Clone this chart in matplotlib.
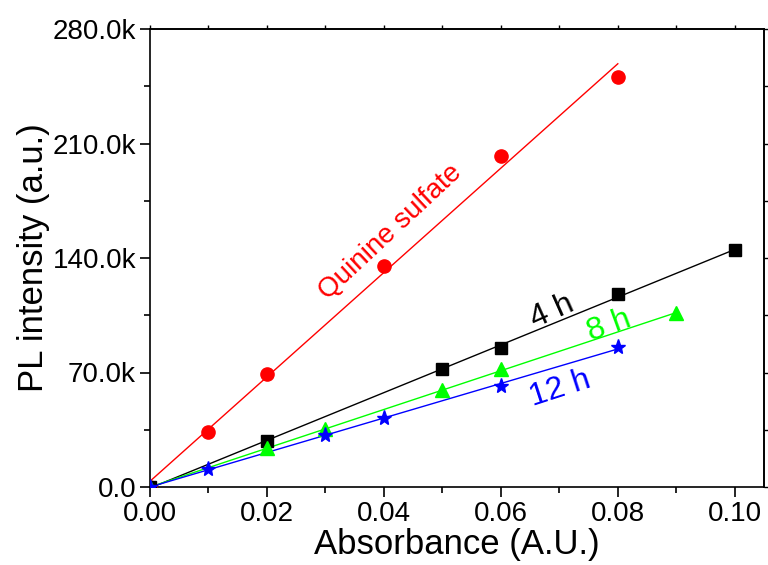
import numpy as np
import matplotlib
matplotlib.use("Agg")
import matplotlib.pyplot as plt
from matplotlib.ticker import MultipleLocator, FuncFormatter

plt.rcParams.update({
    "font.family": ["Liberation Sans", "DejaVu Sans"],
    "axes.linewidth": 1.2,
})

# ---- data ----
x_qs = [0.0, 0.01, 0.02, 0.04, 0.06, 0.08]
y_qs = [0.0, 33.4e3, 69.1e3, 135.3e3, 202.5e3, 250.8e3]

x_4h = [0.0, 0.02, 0.05, 0.06, 0.08, 0.10]
y_4h = [0.0, 28.3e3, 71.9e3, 85.2e3, 118.0e3, 144.9e3]

x_8h = [0.0, 0.02, 0.03, 0.05, 0.06, 0.09]
y_8h = [0.0, 23.6e3, 35.2e3, 59.3e3, 71.9e3, 106.2e3]

x_12h = [0.0, 0.01, 0.03, 0.04, 0.06, 0.08]
y_12h = [0.0, 10.8e3, 31.8e3, 42.4e3, 61.7e3, 85.4e3]

SERIES = [
    # x      y      color      marker  ms
    (x_qs,  y_qs,  "#ff0000", "o",    9.5),
    (x_4h,  y_4h,  "#000000", "s",    8.5),
    (x_8h,  y_8h,  "#00ff00", "^",    10),
    (x_12h, y_12h, "#0000ff", "*",    11),
]

LABELS = [
    # text              x       y        color      rot  size
    ("Quinine sulfate", 0.0412, 156e3,  "#ff0000", 43,  20),
    ("4 h",             0.0687, 107e3,  "#000000", 24,  23),
    ("8 h",             0.0785, 98.5e3, "#00ff00", 20,  23),
    ("12 h",            0.0702, 60e3,   "#0000ff", 18,  23),
]

fig = plt.figure(figsize=(7.68, 5.65), dpi=100)
ax = fig.add_axes([150 / 768, 78 / 565, 614 / 768, 458 / 565])

for xs, ys, c, m, ms in SERIES:
    xs = np.asarray(xs); ys = np.asarray(ys)
    k, b = np.polyfit(xs, ys, 1)
    xl = np.array([xs.min(), xs.max()])
    ax.plot(xl, k * xl + b, color=c, lw=1.0, zorder=2)
    ax.plot(xs, ys, ls="none", marker=m, ms=ms, color=c, mec=c, zorder=3)

for txt, tx, ty, c, rot, fs in LABELS:
    ax.text(tx, ty, txt, color=c, rotation=rot, fontsize=fs,
            ha="center", va="center", rotation_mode="anchor")

ax.set_xlim(0, 0.105)
ax.set_ylim(0, 280e3)
ax.xaxis.set_major_locator(MultipleLocator(0.02))
ax.xaxis.set_minor_locator(MultipleLocator(0.01))
ax.yaxis.set_major_locator(MultipleLocator(70e3))
ax.yaxis.set_minor_locator(MultipleLocator(35e3))
ax.xaxis.set_major_formatter(FuncFormatter(lambda v, p: f"{v:.2f}"))
ax.yaxis.set_major_formatter(
    FuncFormatter(lambda v, p: "0.0" if v == 0 else f"{v / 1e3:.1f}k"))

ax.tick_params(axis="both", which="major", direction="out", length=7,
               width=1.2, labelsize=20, pad=3)
ax.tick_params(axis="both", which="minor", direction="out", length=4,
               width=1.2)

# mirrored ticks on top / right, no labels
top = ax.secondary_xaxis("top")
top.xaxis.set_major_locator(MultipleLocator(0.01))
top.tick_params(direction="out", length=3, width=1.0, labeltop=False)
right = ax.secondary_yaxis("right")
right.yaxis.set_major_locator(MultipleLocator(35e3))
right.tick_params(direction="out", length=3, width=1.0, labelright=False)

ax.set_xlabel("Absorbance (A.U.)", fontsize=25, labelpad=1)
ax.set_ylabel("PL intensity (a.u.)", fontsize=25, labelpad=2)

fig.savefig("out.png", dpi=100)
